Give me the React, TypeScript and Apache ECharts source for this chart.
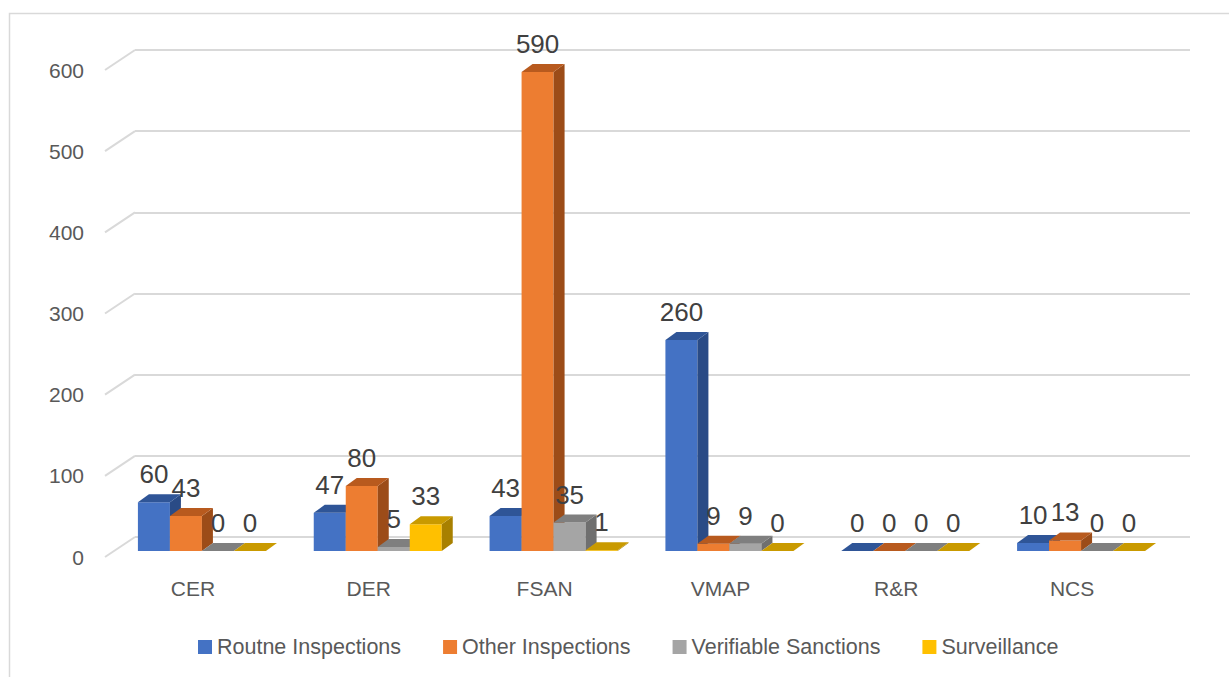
import React, { useEffect, useRef } from "react";
import * as echarts from "echarts";

const categories = ["CER", "DER", "FSAN", "VMAP", "R&R", "NCS"];
const seriesNames = [
  "Routne Inspections",
  "Other Inspections",
  "Verifiable Sanctions",
  "Surveillance",
];
const routine = [60, 47, 43, 260, 0, 10];
const other = [43, 80, 590, 9, 0, 13];
const verifiable = [0, 5, 35, 9, 0, 0];
const surveillance = [0, 33, 1, 0, 0, 0];
const yTicks = [0, 100, 200, 300, 400, 500, 600];

const seriesValues = [routine, other, verifiable, surveillance];

// Face shades of each box: front, top and right side
const palette = [
  { front: "#4472C4", top: "#2F5597", side: "#2A4B86" },
  { front: "#ED7D31", top: "#B85A1E", side: "#9C4C18" },
  { front: "#A5A5A5", top: "#7F7F7F", side: "#6F6F6F" },
  { front: "#FFC000", top: "#C99A00", side: "#A88000" },
];

const FONT = "'Liberation Sans', Arial, sans-serif";
const GRID_COLOR = "#d9d9d9";

// Oblique projection: offsets from the back wall
const FLOOR_DX = -30; // back wall -> front edge of the floor
const FLOOR_DY = 20;
const BAR_DX = -21; // back wall -> front face of the boxes
const BAR_DY = 14;
const BOX_DX = 11; // depth of a box
const BOX_DY = 8;
const BAR_SHARE = 0.182; // width of one box relative to the category band

function makeBarSeries(k: number) {
  const colors = palette[k];
  return {
    type: "custom",
    name: seriesNames[k],
    xAxisIndex: 0,
    yAxisIndex: 0,
    itemStyle: { color: colors.front },
    data: seriesValues[k].map((v, i) => [i, v]),
    renderItem: (params: any, api: any) => {
      const idx = api.value(0);
      const v = api.value(1);
      const base = api.coord([idx, 0]);
      const topPt = api.coord([idx, v]);
      const band = api.size([1, 0])[0];
      const bw = band * BAR_SHARE;
      const x0 = base[0] + BAR_DX - 2 * bw + k * bw;
      const x1 = x0 + bw;
      const yb = base[1] + BAR_DY;
      const yt = topPt[1] + BAR_DY;
      const z2 = 10 + k;
      return {
        type: "group",
        children: [
          {
            type: "rect",
            z2,
            shape: { x: x0, y: yt, width: bw, height: Math.max(0, yb - yt) },
            style: { fill: colors.front },
          },
          {
            type: "polygon",
            z2,
            shape: {
              points: [
                [x1, yt],
                [x1 + BOX_DX, yt - BOX_DY],
                [x1 + BOX_DX, yb - BOX_DY],
                [x1, yb],
              ],
            },
            style: { fill: colors.side },
          },
          {
            type: "polygon",
            z2,
            shape: {
              points: [
                [x0, yt],
                [x1, yt],
                [x1 + BOX_DX, yt - BOX_DY],
                [x0 + BOX_DX, yt - BOX_DY],
              ],
            },
            style: { fill: colors.top },
          },
          {
            type: "text",
            z2: 100,
            x: (x0 + x1) / 2,
            y: yt - 28,
            style: {
              text: String(v),
              align: "center",
              verticalAlign: "middle",
              textAlign: "center",
              textVerticalAlign: "middle",
              fontSize: 26,
              fontFamily: FONT,
              fill: "#404040",
            },
          },
        ],
      };
    },
  };
}

// Slanted floor lines joining each wall gridline to its front tick
const wallSeries = {
  type: "custom",
  name: "wall",
  xAxisIndex: 0,
  yAxisIndex: 0,
  silent: true,
  z: 1,
  data: yTicks.map((v) => [0, v]),
  renderItem: (params: any, api: any) => {
    const p = api.coord([0, api.value(1)]);
    const left = params.coordSys.x;
    return {
      type: "line",
      shape: { x1: left, y1: p[1], x2: left + FLOOR_DX, y2: p[1] + FLOOR_DY },
      style: { stroke: GRID_COLOR, lineWidth: 2 },
    };
  },
};

export default function App() {
  const ref = useRef<HTMLDivElement>(null);

  useEffect(() => {
    if (!ref.current) return;
    const chart = echarts.init(ref.current, null, { renderer: "svg" });
    chart.setOption({
      animation: false,
      backgroundColor: "#ffffff",
      textStyle: { fontFamily: FONT },
      graphic: [
        {
          type: "rect",
          silent: true,
          shape: { x: 9.5, y: 13.5, width: 1300, height: 700 },
          style: { fill: "none", stroke: GRID_COLOR, lineWidth: 1.5 },
        },
      ],
      legend: {
        data: seriesNames,
        left: 198,
        top: 636,
        padding: 0,
        icon: "rect",
        itemWidth: 14,
        itemHeight: 14,
        itemGap: 42,
        textStyle: { fontSize: 21.5, color: "#595959", fontFamily: FONT },
      },
      grid: [
        { left: 135, right: 39, top: 50, bottom: 140 },
        { left: 105, right: 69, top: 70, bottom: 120 },
      ],
      xAxis: [
        { type: "category", gridIndex: 0, data: categories, show: false },
        {
          type: "category",
          gridIndex: 1,
          data: categories,
          axisLine: { show: false },
          axisTick: { show: false },
          axisLabel: { margin: 21, fontSize: 21, color: "#595959", fontFamily: FONT },
        },
      ],
      yAxis: [
        {
          type: "value",
          gridIndex: 0,
          min: 0,
          max: 600,
          interval: 100,
          axisLabel: { show: false },
          axisLine: { show: false },
          axisTick: { show: false },
          splitLine: { lineStyle: { color: GRID_COLOR, width: 2 } },
        },
        {
          type: "value",
          gridIndex: 1,
          min: 0,
          max: 600,
          interval: 100,
          splitLine: { show: false },
          axisLine: { show: false },
          axisTick: { show: false },
          axisLabel: {
            margin: 21,
            fontSize: 21,
            color: "#595959",
            fontFamily: FONT,
            padding: [4, 0, 0, 0],
          },
        },
      ],
      series: [wallSeries, ...seriesValues.map((_, k) => makeBarSeries(k))],
    });
    return () => chart.dispose();
  }, []);

  return (
    <div
      ref={ref}
      style={{ position: "fixed", left: 0, top: 0, width: 1229, height: 677, background: "#fff" }}
    />
  );
}
